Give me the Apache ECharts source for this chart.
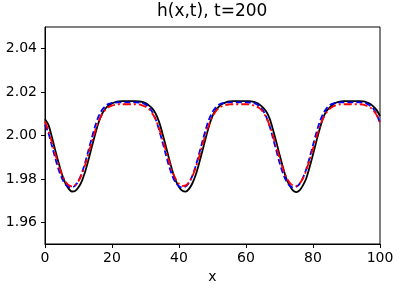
<!DOCTYPE html>
<html>
<head>
<meta charset="utf-8">
<script src="https://cdn.jsdelivr.net/npm/echarts@6/dist/echarts.min.js"></script>
<style>
html,body{margin:0;padding:0;background:#fff;}
#c{width:400px;height:290px;}
</style>
</head>
<body>
<div id="c"></div>
<script>
const xStart = 0, xStep = 1;
const blackValues = [2.0075,2.0050,1.9997,1.9936,1.9878,1.9824,1.9783,1.9756,1.9742,1.9744,
  1.9761,1.9790,1.9834,1.9889,1.9949,2.0007,2.0060,2.0099,2.0123,2.0138,
  2.0148,2.0154,2.0157,2.0158,2.0158,2.0158,2.0158,2.0158,2.0157,2.0155,
  2.0149,2.0139,2.0125,2.0102,2.0065,2.0013,1.9955,1.9895,1.9839,1.9793,
  1.9763,1.9745,1.9741,1.9754,1.9780,1.9819,1.9872,1.9930,1.9990,2.0045,
  2.0090,2.0117,2.0134,2.0146,2.0153,2.0157,2.0158,2.0158,2.0158,2.0158,
  2.0158,2.0158,2.0156,2.0152,2.0143,2.0130,2.0112,2.0080,2.0030,1.9973,
  1.9912,1.9855,1.9803,1.9770,1.9747,1.9739,1.9747,1.9770,1.9803,1.9855,
  1.9912,1.9973,2.0030,2.0080,2.0112,2.0130,2.0143,2.0152,2.0156,2.0158,
  2.0158,2.0158,2.0158,2.0158,2.0158,2.0157,2.0153,2.0146,2.0134,2.0117,
  2.0090];
const blueValues = [2.0050,2.0013,1.9956,1.9899,1.9846,1.9805,1.9777,1.9764,1.9761,1.9769,
  1.9791,1.9827,1.9876,1.9933,1.9991,2.0045,2.0088,2.0117,2.0135,2.0146,
  2.0150,2.0152,2.0153,2.0153,2.0153,2.0153,2.0153,2.0153,2.0152,2.0149,
  2.0143,2.0130,2.0109,2.0076,2.0029,1.9973,1.9916,1.9860,1.9815,1.9783,
  1.9766,1.9760,1.9766,1.9783,1.9815,1.9860,1.9916,1.9973,2.0029,2.0076,
  2.0109,2.0130,2.0143,2.0149,2.0152,2.0153,2.0153,2.0153,2.0153,2.0153,
  2.0153,2.0152,2.0150,2.0146,2.0135,2.0117,2.0088,2.0045,1.9991,1.9933,
  1.9876,1.9827,1.9791,1.9769,1.9761,1.9764,1.9777,1.9805,1.9846,1.9899,
  1.9956,2.0013,2.0062,2.0100,2.0124,2.0140,2.0147,2.0151,2.0152,2.0153,
  2.0153,2.0153,2.0153,2.0153,2.0153,2.0151,2.0147,2.0138,2.0123,2.0097,
  2.0058];
const redValues = [2.0065,2.0022,1.9972,1.9918,1.9866,1.9822,1.9790,1.9772,1.9766,1.9772,
  1.9790,1.9822,1.9866,1.9918,1.9972,2.0022,2.0065,2.0097,2.0118,2.0131,
  2.0138,2.0142,2.0144,2.0144,2.0144,2.0144,2.0144,2.0144,2.0143,2.0139,
  2.0133,2.0122,2.0103,2.0075,2.0035,1.9987,1.9934,1.9882,1.9835,1.9800,
  1.9777,1.9768,1.9770,1.9785,1.9812,1.9853,1.9902,1.9956,2.0007,2.0052,
  2.0087,2.0112,2.0127,2.0136,2.0141,2.0143,2.0144,2.0144,2.0144,2.0144,
  2.0144,2.0143,2.0140,2.0135,2.0126,2.0110,2.0084,2.0048,2.0002,1.9950,
  1.9897,1.9848,1.9809,1.9783,1.9770,1.9768,1.9779,1.9803,1.9840,1.9887,
  1.9940,1.9992,2.0039,2.0078,2.0105,2.0123,2.0134,2.0140,2.0143,2.0144,
  2.0144,2.0144,2.0144,2.0144,2.0144,2.0142,2.0137,2.0130,2.0116,2.0094,
  2.0061];
const yTickValues = [1.96,1.98,2.00,2.02,2.04];
const titleText = 'h(x,t), t=200';
const xName = 'x';

const zip = (ys) => ys.map((y, i) => [xStart + i * xStep, y]);
const font = 'DejaVu Sans';
const chart = echarts.init(document.getElementById('c'), null, {renderer: 'canvas'});
chart.setOption({
  animation: false,
  backgroundColor: '#fff',
  title: {
    text: titleText,
    left: 157, top: 3, padding: 0,
    textStyle: {fontFamily: font, fontSize: 17, fontWeight: 'normal', color: '#000'}
  },
  grid: {left: 45, right: 20, top: 27, bottom: 46, show: true, borderColor: '#000', borderWidth: 1, backgroundColor: 'transparent'},
  xAxis: {
    type: 'value', min: 0, max: 100, interval: 20,
    name: xName, nameLocation: 'middle', nameGap: 24,
    nameTextStyle: {fontFamily: font, fontSize: 14, color: '#000'},
    axisLine: {show: true, lineStyle: {color: '#000', width: 1}},
    axisTick: {show: true, length: 4, lineStyle: {color: '#000'}},
    axisLabel: {fontFamily: font, fontSize: 14, color: '#000', margin: 7},
    splitLine: {show: false}
  },
  yAxis: {
    type: 'value', min: 1.95, max: 2.05,
    axisLine: {show: true, lineStyle: {color: '#000', width: 1}},
    axisTick: {show: true, length: 4, lineStyle: {color: '#000'}, customValues: yTickValues},
    axisLabel: {fontFamily: font, fontSize: 14, color: '#000', margin: 8, customValues: yTickValues,
      formatter: (v) => v.toFixed(2)},
    splitLine: {show: false}
  },
  series: [
    {type: 'line', data: zip(blackValues), smooth: 0.3, showSymbol: false,
      lineStyle: {color: '#000000', width: 1.8}},
    {type: 'line', data: zip(blueValues), smooth: 0.3, showSymbol: false,
      lineStyle: {color: '#0000ff', width: 1.8, type: [6, 3]}},
    {type: 'line', data: zip(redValues), smooth: 0.3, showSymbol: false,
      lineStyle: {color: '#ff0000', width: 1.8, type: [8, 3, 2, 3]}}
  ]
});
</script>
</body>
</html>
